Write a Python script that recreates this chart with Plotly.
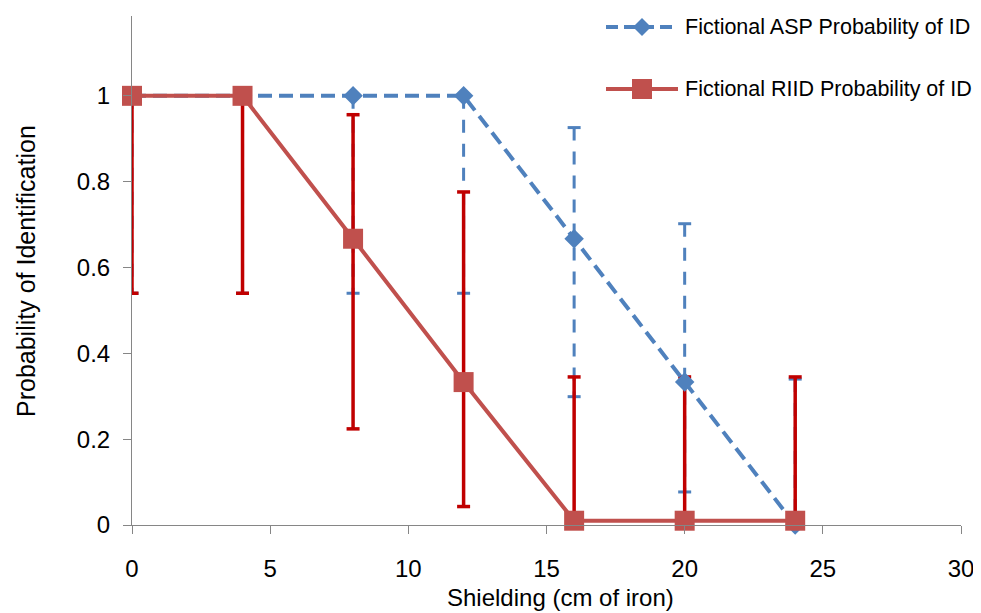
import plotly.graph_objects as go

# ---- data ----
shielding = [0, 4, 8, 12, 16, 20, 24]
asp_prob = [1, 1, 1, 1, 0.667, 0.333, 0]
asp_upper = [1, 1, 1, 1, 0.926, 0.702, 0.340]
asp_lower = [0.54, 0.54, 0.54, 0.54, 0.299, 0.077, 0]
riid_prob = [1, 1, 0.667, 0.333, 0.01, 0.01, 0.01]
riid_upper = [1, 1, 0.956, 0.776, 0.345, 0.345, 0.345]
riid_lower = [0.54, 0.54, 0.224, 0.043, 0.01, 0.01, 0.01]
x_ticks = [0, 5, 10, 15, 20, 25, 30]
y_ticks = [0, 0.2, 0.4, 0.6, 0.8, 1]
y_tick_text = ["0", "0.2", "0.4", "0.6", "0.8", "1"]
asp_name = "Fictional ASP Probability of ID"
riid_name = "Fictional RIID Probability of ID"
x_title = "Shielding (cm of iron)"
y_title = "Probability of Identification"

BLUE = "#4F81BD"
RED = "#C0504D"
ERR_RED = "#C00000"
FONT = "Liberation Sans"

OFF = 8  # page body margin
PAGE_W, PAGE_H = 981, 613
W, H = PAGE_W - OFF, PAGE_H - OFF
# plot area in page pixels: left 132, right 961, top 16, bottom 525
ML, MT = 132 - OFF, 16 - OFF
MR, MB = PAGE_W - 961, PAGE_H - 525
plot_w = W - ML - MR
plot_h = H - MT - MB
XMAX = 30
YMAX = 1.186
cap = 6.5 * XMAX / plot_w  # half cap width in data units


def bars(xs, ys, up, lo):
    vx, vy = [], []
    for x, y, u, l in zip(xs, ys, up, lo):
        if u > l:
            vx += [x, x, None]
            vy += [u, l, None]
    return vx, vy


def caps(xs, ys, up, lo):
    cx, cy = [], []
    for x, y, u, l in zip(xs, ys, up, lo):
        for v in (u, l):
            if abs(v - y) > 1e-9:
                cx += [x - cap, x + cap, None]
                cy += [v, v, None]
    return cx, cy


fig = go.Figure()

bx, by = bars(shielding, asp_prob, asp_upper, asp_lower)
fig.add_trace(go.Scatter(x=bx, y=by, mode="lines", line=dict(color=BLUE, width=3, dash="13px,11px"),
                         showlegend=False, hoverinfo="skip", cliponaxis=False))
cx, cy = caps(shielding, asp_prob, asp_upper, asp_lower)
fig.add_trace(go.Scatter(x=cx, y=cy, mode="lines", line=dict(color=BLUE, width=3),
                         showlegend=False, hoverinfo="skip", cliponaxis=False))

rx, ry = bars(shielding, riid_prob, riid_upper, riid_lower)
rcx, rcy = caps(shielding, riid_prob, riid_upper, riid_lower)
fig.add_trace(go.Scatter(x=rx + rcx, y=ry + rcy, mode="lines", line=dict(color=ERR_RED, width=3.5),
                         showlegend=False, hoverinfo="skip", cliponaxis=False))

fig.add_trace(go.Scatter(x=shielding, y=asp_prob, mode="lines+markers", name=asp_name,
                         line=dict(color=BLUE, width=4, dash="14px,7px"),
                         marker=dict(symbol="diamond", size=15, color=BLUE),
                         showlegend=False, cliponaxis=False))
fig.add_trace(go.Scatter(x=shielding, y=riid_prob, mode="lines+markers", name=riid_name,
                         line=dict(color=RED, width=4),
                         marker=dict(symbol="square", size=20, color=RED),
                         showlegend=False, cliponaxis=False))


# ---- custom legend (positions in page pixels) ----
def px_x(p):
    return (p - OFF - ML) / plot_w


def px_y(p):
    return (H - MB - (p - OFF)) / plot_h


shapes = []
ly = [27, 89]
for i, (col, dash) in enumerate([(BLUE, "12px,6px"), (RED, "solid")]):
    shapes.append(dict(type="line", xref="paper", yref="paper", x0=px_x(606), x1=px_x(678),
                       y0=px_y(ly[i]), y1=px_y(ly[i]), line=dict(color=col, width=4, dash=dash)))
shapes.append(dict(type="path", xref="paper", yref="paper", xsizemode="pixel", ysizemode="pixel",
                   xanchor=px_x(642), yanchor=px_y(ly[0]),
                   path="M -9 0 L 0 -9 L 9 0 L 0 9 Z", fillcolor=BLUE, line=dict(width=0)))
shapes.append(dict(type="rect", xref="paper", yref="paper", xsizemode="pixel", ysizemode="pixel",
                   xanchor=px_x(642), yanchor=px_y(ly[1]),
                   x0=-10, x1=10, y0=-10, y1=10, fillcolor=RED, line=dict(width=0)))

annotations = [
    dict(text=asp_name, xref="paper", yref="paper", x=px_x(683), y=px_y(ly[0]), xanchor="left",
         yanchor="middle", showarrow=False, font=dict(family=FONT, size=21.5, color="#000")),
    dict(text=riid_name, xref="paper", yref="paper", x=px_x(683), y=px_y(ly[1]), xanchor="left",
         yanchor="middle", showarrow=False, font=dict(family=FONT, size=21.5, color="#000")),
    dict(text=x_title, xref="paper", yref="paper", x=px_x(560), y=px_y(612), xanchor="center",
         yanchor="bottom", borderpad=0, showarrow=False, font=dict(family=FONT, size=24, color="#000")),
    dict(text=y_title, xref="paper", yref="paper", x=px_x(26), y=px_y(271), xanchor="center",
         yanchor="middle", textangle=-90, showarrow=False, font=dict(family=FONT, size=25, color="#000")),
]

axis_common = dict(showgrid=False, zeroline=False, showline=True, linecolor="#868686", linewidth=1,
                   ticks="outside", ticklen=8, tickcolor="#868686", tickwidth=1,
                   tickfont=dict(family=FONT, size=24, color="#000"))

fig.update_layout(
    width=W, height=H,
    margin=dict(l=ML, r=MR, t=MT, b=MB),
    paper_bgcolor="white", plot_bgcolor="white",
    xaxis=dict(range=[0, XMAX], tickvals=x_ticks, ticklabelstandoff=14, **axis_common),
    yaxis=dict(range=[0, YMAX], tickvals=y_ticks, ticktext=y_tick_text, ticklabelstandoff=8, **axis_common),
    shapes=shapes, annotations=annotations,
)

fig.write_html("out.html")
